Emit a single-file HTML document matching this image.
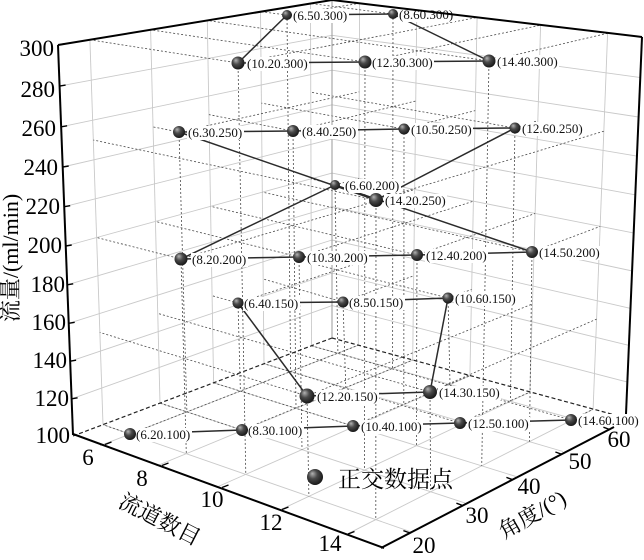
<!DOCTYPE html>
<html>
<head>
<meta charset="utf-8">
<style>
html,body{margin:0;padding:0;background:#fff;}
svg{display:block;}
</style>
</head>
<body>
<svg width="644" height="560" viewBox="0 0 644 560">
<defs>
<radialGradient id="bg" cx="0.42" cy="0.4" r="0.62" fx="0.33" fy="0.28">
<stop offset="0" stop-color="#b4b4b4"/>
<stop offset="0.45" stop-color="#4a4a4a"/>
<stop offset="1" stop-color="#151515"/>
</radialGradient>
</defs>
<rect x="0" y="0" width="644" height="560" fill="#fff"/>

<g id="grid" stroke="#c9c9c9" stroke-width="0.9" fill="none"></g>
<g id="drops" stroke="#4a4a4a" stroke-width="0.8" stroke-dasharray="2 2" fill="none"></g>

<line x1="332" y1="0" x2="332" y2="338" stroke="#9a9a9a" stroke-width="1"/>
<g stroke="#222" stroke-width="1.2" stroke-dasharray="4 2.5" fill="none">
<line x1="73" y1="436" x2="332" y2="338"/>
<line x1="332" y1="338" x2="626" y2="418"/>
</g>

<g stroke="#2b2b2b" stroke-width="1.5" fill="none">
<line x1="238" y1="63" x2="287" y2="15"/>
<line x1="287" y1="15" x2="393" y2="14"/>
<line x1="393" y1="14" x2="489" y2="61"/>
<line x1="489" y1="61" x2="365" y2="62"/>
<line x1="365" y1="62" x2="238" y2="63"/>

<line x1="179" y1="132" x2="293" y2="131"/>
<line x1="293" y1="131" x2="404" y2="129"/>
<line x1="404" y1="129" x2="515" y2="128"/>
<line x1="515" y1="128" x2="376" y2="200"/>
<line x1="376" y1="200" x2="179" y2="132"/>

<line x1="335" y1="185" x2="181" y2="259"/>
<line x1="181" y1="259" x2="299" y2="257"/>
<line x1="299" y1="257" x2="417" y2="255"/>
<line x1="417" y1="255" x2="532" y2="252"/>
<line x1="532" y1="252" x2="335" y2="185"/>

<line x1="238" y1="303" x2="343" y2="302"/>
<line x1="343" y1="302" x2="448" y2="298"/>
<line x1="448" y1="298" x2="430" y2="392"/>
<line x1="430" y1="392" x2="307" y2="396"/>
<line x1="307" y1="396" x2="238" y2="303"/>

<line x1="130" y1="434" x2="242" y2="430"/>
<line x1="242" y1="430" x2="353" y2="426"/>
<line x1="353" y1="426" x2="460" y2="423"/>
<line x1="460" y1="423" x2="571" y2="420"/>
</g>

<g font-family="'Liberation Serif','Noto Serif CJK SC',serif" font-size="13" fill="#111">
<rect x="292" y="9" width="57" height="14" fill="#fff"/><text x="293" y="20">(6.50.300)</text>
<rect x="398" y="8" width="57" height="14" fill="#fff"/><text x="399" y="19">(8.60.300)</text>
<rect x="246" y="57" width="63" height="14" fill="#fff"/><text x="247" y="68">(10.20.300)</text>
<rect x="371" y="56" width="63" height="14" fill="#fff"/><text x="372" y="67">(12.30.300)</text>
<rect x="496" y="55" width="63" height="14" fill="#fff"/><text x="497" y="66">(14.40.300)</text>

<rect x="187" y="126" width="57" height="14" fill="#fff"/><text x="188" y="137">(6.30.250)</text>
<rect x="301" y="125" width="57" height="14" fill="#fff"/><text x="302" y="136">(8.40.250)</text>
<rect x="410" y="123" width="63" height="14" fill="#fff"/><text x="411" y="134">(10.50.250)</text>
<rect x="521" y="122" width="63" height="14" fill="#fff"/><text x="522" y="133">(12.60.250)</text>
<rect x="344" y="179" width="57" height="14" fill="#fff"/><text x="345" y="190">(6.60.200)</text>
<rect x="384" y="194" width="63" height="14" fill="#fff"/><text x="385" y="205">(14.20.250)</text>

<rect x="191" y="253" width="57" height="14" fill="#fff"/><text x="192" y="264">(8.20.200)</text>
<rect x="306" y="251" width="63" height="14" fill="#fff"/><text x="307" y="262">(10.30.200)</text>
<rect x="425" y="249" width="63" height="14" fill="#fff"/><text x="426" y="260">(12.40.200)</text>
<rect x="538" y="246" width="63" height="14" fill="#fff"/><text x="539" y="257">(14.50.200)</text>

<rect x="243" y="297" width="57" height="14" fill="#fff"/><text x="244" y="308">(6.40.150)</text>
<rect x="348" y="296" width="57" height="14" fill="#fff"/><text x="349" y="307">(8.50.150)</text>
<rect x="454" y="292" width="63" height="14" fill="#fff"/><text x="455" y="303">(10.60.150)</text>
<rect x="316" y="390" width="63" height="14" fill="#fff"/><text x="317" y="401">(12.20.150)</text>
<rect x="438" y="386" width="63" height="14" fill="#fff"/><text x="439" y="397">(14.30.150)</text>

<rect x="135" y="428" width="57" height="14" fill="#fff"/><text x="136" y="439">(6.20.100)</text>
<rect x="247" y="424" width="57" height="14" fill="#fff"/><text x="248" y="435">(8.30.100)</text>
<rect x="360" y="420" width="63" height="14" fill="#fff"/><text x="361" y="431">(10.40.100)</text>
<rect x="467" y="417" width="63" height="14" fill="#fff"/><text x="468" y="428">(12.50.100)</text>
<rect x="577" y="414" width="63" height="14" fill="#fff"/><text x="578" y="425">(14.60.100)</text>
</g>

<g fill="url(#bg)">
<circle cx="287" cy="15" r="5"/>
<circle cx="393" cy="14" r="5"/>
<circle cx="238" cy="63" r="6.5"/>
<circle cx="365" cy="62" r="6.5"/>
<circle cx="489" cy="61" r="6.5"/>
<circle cx="179" cy="132" r="6"/>
<circle cx="293" cy="131" r="6"/>
<circle cx="404" cy="129" r="5.5"/>
<circle cx="515" cy="128" r="5.5"/>
<circle cx="335" cy="185" r="5"/>
<circle cx="376" cy="200" r="7"/>
<circle cx="181" cy="259" r="6.5"/>
<circle cx="299" cy="257" r="6"/>
<circle cx="417" cy="255" r="6"/>
<circle cx="532" cy="252" r="6"/>
<circle cx="238" cy="303" r="5.5"/>
<circle cx="343" cy="302" r="5.5"/>
<circle cx="448" cy="298" r="5.5"/>
<circle cx="307" cy="396" r="7.5"/>
<circle cx="430" cy="392" r="7"/>
<circle cx="130" cy="434" r="6"/>
<circle cx="242" cy="430" r="6"/>
<circle cx="353" cy="426" r="6"/>
<circle cx="460" cy="423" r="6"/>
<circle cx="571" cy="420" r="6"/>
<circle cx="315" cy="477" r="8"/>
</g>

<g stroke="#000" stroke-width="2" fill="none" stroke-linejoin="miter">
<polyline points="58,45 332,0 642,37"/>
<line x1="642" y1="37" x2="626" y2="414"/>
<line x1="58" y1="45" x2="73" y2="435"/>
<line x1="73" y1="434" x2="384" y2="548"/>
<line x1="381" y1="548" x2="614" y2="427"/>
</g>
<g stroke="#000" stroke-width="1.4">
<line x1="58" y1="45" x2="64" y2="44"/>
<line x1="59.6" y1="86.1" x2="65.6" y2="85.1"/>
<line x1="61.1" y1="126.8" x2="67.1" y2="125.8"/>
<line x1="62.7" y1="167" x2="68.7" y2="166"/>
<line x1="64.2" y1="206.7" x2="70.2" y2="205.7"/>
<line x1="65.7" y1="246" x2="71.7" y2="245"/>
<line x1="67.2" y1="284.8" x2="73.2" y2="283.8"/>
<line x1="68.7" y1="323.3" x2="74.7" y2="322.3"/>
<line x1="70.1" y1="361.2" x2="76.1" y2="360.2"/>
<line x1="71.6" y1="398.8" x2="77.6" y2="397.8"/>

<line x1="105" y1="444.5" x2="111.5" y2="442"/>
<line x1="162" y1="465.5" x2="168.5" y2="463"/>
<line x1="222" y1="487.5" x2="228.5" y2="485"/>
<line x1="282" y1="509.5" x2="288.5" y2="507"/>
<line x1="348" y1="534" x2="354.5" y2="531.5"/>

<line x1="410" y1="533" x2="403.4" y2="530.6"/>
<line x1="463" y1="505.6" x2="456.4" y2="503.2"/>
<line x1="513" y1="479.8" x2="506.4" y2="477.4"/>
<line x1="562" y1="454.4" x2="555.4" y2="452"/>
<line x1="610" y1="429.6" x2="603.4" y2="427.2"/>
</g>

<g font-family="'Liberation Serif',serif" font-size="23" fill="#000">
<g text-anchor="end">
<text x="54" y="56">300</text>
<text x="55" y="97">280</text>
<text x="56" y="136">260</text>
<text x="58" y="175">240</text>
<text x="60" y="214">220</text>
<text x="62" y="253">200</text>
<text x="65" y="292">180</text>
<text x="66" y="330">160</text>
<text x="67" y="368">140</text>
<text x="69" y="406">120</text>
<text x="70" y="443">100</text>
</g>
<g text-anchor="middle">
<text x="88" y="465">6</text>
<text x="142" y="486">8</text>
<text x="212" y="507">10</text>
<text x="271" y="530">12</text>
<text x="330" y="551">14</text>
<text x="424" y="553">20</text>
<text x="477" y="523">30</text>
<text x="529" y="494">40</text>
<text x="580" y="469">50</text>
<text x="619" y="447">60</text>
</g>
</g>

<g font-family="'Liberation Serif','Noto Serif CJK SC',serif" fill="#000">
<text transform="translate(18,258) rotate(-90)" x="0" y="0" text-anchor="middle" font-size="22">流量/(ml/min)</text>
<text transform="translate(160,519) rotate(27)" x="0" y="8" text-anchor="middle" font-size="22">流道数目</text>
<text transform="translate(532,514) rotate(-30)" x="0" y="8" text-anchor="middle" font-size="22">角度/(°)</text>
<text x="338" y="487" font-size="23">正交数据点</text>
</g>
</svg>

<script>
(function(){
function P(x,a,z){
  var u=(x-5)/10, v=(a-15)/49.5, w=(z-100)/200;
  var d=1-0.136*u+0.164*v-0.0547*w;
  return [(73+257.05*u+313.45*v-18.17*w)/d,(436+36.6*u-42.57*v-393.46*w)/d];
}
function L(p,q){
  return '<line x1="'+p[0].toFixed(1)+'" y1="'+p[1].toFixed(1)+'" x2="'+q[0].toFixed(1)+'" y2="'+q[1].toFixed(1)+'"/>';
}
var A1=64.5, s='', z, a, x, i;
for(z=120;z<=280;z+=20){ s+=L(P(5,15,z),P(5,A1,z)); s+=L(P(5,A1,z),P(15,A1,z)); }
for(a=20;a<=60;a+=10){ s+=L(P(5,a,100),P(5,a,300)); s+=L(P(5,a,100),P(15,a,100)); }
for(x=6;x<=14;x+=2){ s+=L(P(x,A1,100),P(x,A1,300)); s+=L(P(x,15,100),P(x,A1,100)); }
document.getElementById('grid').innerHTML=s;

var pts=[[6,50,300,287,15],[8,60,300,393,14],[10,20,300,238,63],[12,30,300,365,62],[14,40,300,489,61],
[6,30,250,179,132],[8,40,250,293,131],[10,50,250,404,129],[12,60,250,515,128],[6,60,200,335,185],[14,20,250,376,200],
[8,20,200,181,259],[10,30,200,299,257],[12,40,200,417,255],[14,50,200,532,252],
[6,40,150,238,303],[8,50,150,343,302],[10,60,150,448,298],[12,20,150,307,396],[14,30,150,430,392],
[6,20,100,130,434],[8,30,100,242,430],[10,40,100,353,426],[12,50,100,460,423],[14,60,100,571,420]];
var t='';
for(i=0;i<pts.length;i++){
  var p=pts[i], c=[p[3],p[4]];
  if(p[2]>100) t+=L(c,P(p[0],p[1],100));
  t+=L(c,P(5,p[1],p[2]));
  t+=L(c,P(p[0],A1,p[2]));
}
document.getElementById('drops').innerHTML=t;
})();
</script>
</body>
</html>
